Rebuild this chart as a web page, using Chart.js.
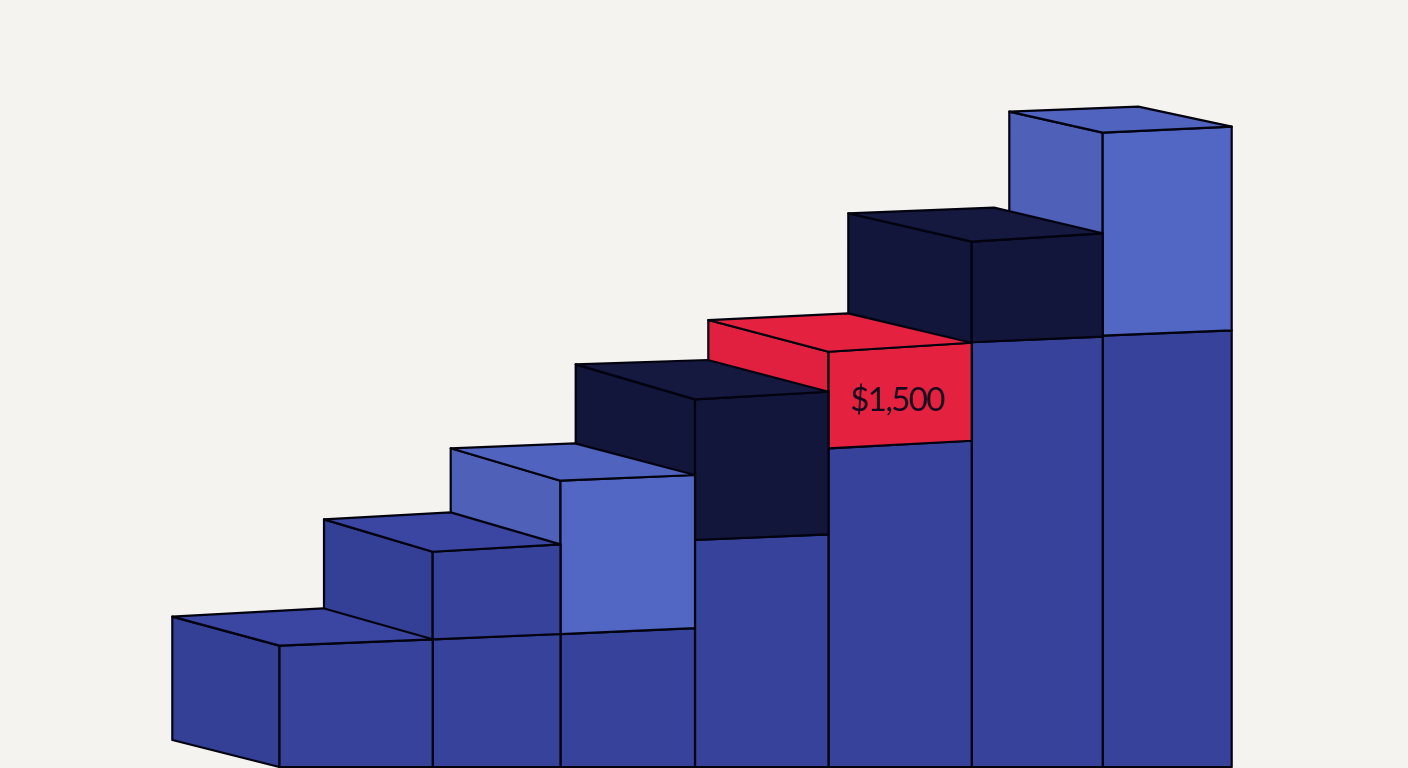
<!DOCTYPE html>
<html>
<head>
<meta charset="utf-8">
<title>Stepped cost chart</title>
<script src="https://cdn.jsdelivr.net/npm/chart.js@4"></script>
<style>
html,body{margin:0;padding:0;background:#f4f3ef;overflow:hidden}
#wrap{width:1408px;height:768px;position:relative}
</style>
</head>
<body>
<div id="wrap"><canvas id="c" width="1408" height="768"></canvas></div>
<script>
// ---- values (dollars) ----
const baseValues  = [1884, 1983, 2065, 3525, 4949, 6596, 6698];
const upperValues = [0, 1360, 2381, 2185, 1500, 1562, 3153];
const upperTones  = ['base', 'base', 'light', 'dark', 'red', 'dark', 'light'];
const labelledStep = 4;
const labelText = '$1,500';

// ---- layout of the pseudo-3D blocks (separate from the values) ----
const stepEdges  = [279.5, 432.7, 560.5, 695, 828.5, 971.7, 1102.7, 1231.7];
const baseRise   = [6.4, 5.3, 6, 5.7, 7.6, 5.6, 5.4];
const upperRise  = [6.4, 7.4, 5.7, 7.6, 9, 8.4, 6];
const backLeftX  = [-107.2, -108.7, -109.8, -119.3, -120.2, -123.4, -93.4];
const backLeftY  = [-29, -32.4, -32.4, -35, -31.7, -28.4, -21];
const backRightX = [-109.4, -109.8, -120, -120.8, -123.4, -108.7, -93.4];
const backRightY = [-31, -32, -31.7, -31.7, -29.4, -25.6, -20];
const floorDepthY = -27;
const usdPerPx = 15.53;

const palette = {
  base:  {front: '#37429b', left: '#343f96', top: '#3b46a2'},
  light: {front: '#5267c3', left: '#4e60b8', top: '#5064bf'},
  dark:  {front: '#13163b', left: '#12163b', top: '#15183f'},
  red:   {front: '#e4213f', left: '#e0203e', top: '#e4213f'}
};
const inkColor = '#02030f';

function face(points, fillColor) {
  return {
    data: points.concat([points[0]]).map(p => ({x: p[0], y: p[1]})),
    showLine: true,
    fill: 'shape',
    backgroundColor: fillColor,
    borderColor: inkColor,
    borderWidth: 2.2,
    borderJoinStyle: 'round',
    tension: 0,
    pointRadius: 0,
    pointHoverRadius: 0,
    clip: false
  };
}

// First dataset paints last, so the nearest step comes first.
const datasets = [];
baseValues.forEach((baseValue, i) => {
  const xL = stepEdges[i], xR = stepEdges[i + 1];
  const topValue = baseValue + upperValues[i];
  const topL = topValue, topR = topValue + upperRise[i] * usdPerPx;
  const baseR = baseValue + baseRise[i] * usdPerPx;
  const tone = palette[upperTones[i]];
  const blX = xL + backLeftX[i], brX = xR + backRightX[i];
  const blY = topL - backLeftY[i] * usdPerPx, brY = topR - backRightY[i] * usdPerPx;

  datasets.push(face([[xL, topL], [xR, topR], [brX, brY], [blX, blY]], tone.top));
  if (upperValues[i] > 0) {
    datasets.push(face([[xL, baseValue], [xR, baseR], [xR, topR], [xL, topL]], tone.front));
  }
  datasets.push(face([[xL, 0], [xR, 0], [xR, baseR], [xL, baseValue]], palette.base.front));
  datasets.push(face([[xL, 0], [xL, topL], [blX, blY], [blX, -floorDepthY * usdPerPx]],
    upperValues[i] > 0 ? tone.left : palette.base.left));
});

const valueLabel = {
  id: 'valueLabel',
  afterDatasetsDraw(chart) {
    const i = labelledStep;
    const x = chart.scales.x.getPixelForValue((stepEdges[i] + stepEdges[i + 1]) / 2 - 3);
    const y = chart.scales.y.getPixelForValue(baseValues[i] + upperValues[i] / 2);
    const ctx = chart.ctx;
    ctx.save();
    ctx.font = '33px Lato, "Open Sans", sans-serif';
    ctx.letterSpacing = '-1.6px';
    ctx.fillStyle = '#16081e';
    ctx.textAlign = 'center';
    ctx.textBaseline = 'middle';
    ctx.fillText(labelText, x, y);
    ctx.restore();
  }
};

new Chart(document.getElementById('c'), {
  type: 'scatter',
  data: {datasets},
  plugins: [valueLabel],
  options: {
    responsive: false,
    animation: false,
    layout: {padding: 0},
    events: [],
    plugins: {legend: {display: false}, tooltip: {enabled: false}, title: {display: false}},
    scales: {
      x: {type: 'linear', display: false, min: 0, max: 1408},
      y: {type: 'linear', display: false, min: -1 * usdPerPx, max: 767 * usdPerPx}
    }
  }
});
</script>
</body>
</html>
